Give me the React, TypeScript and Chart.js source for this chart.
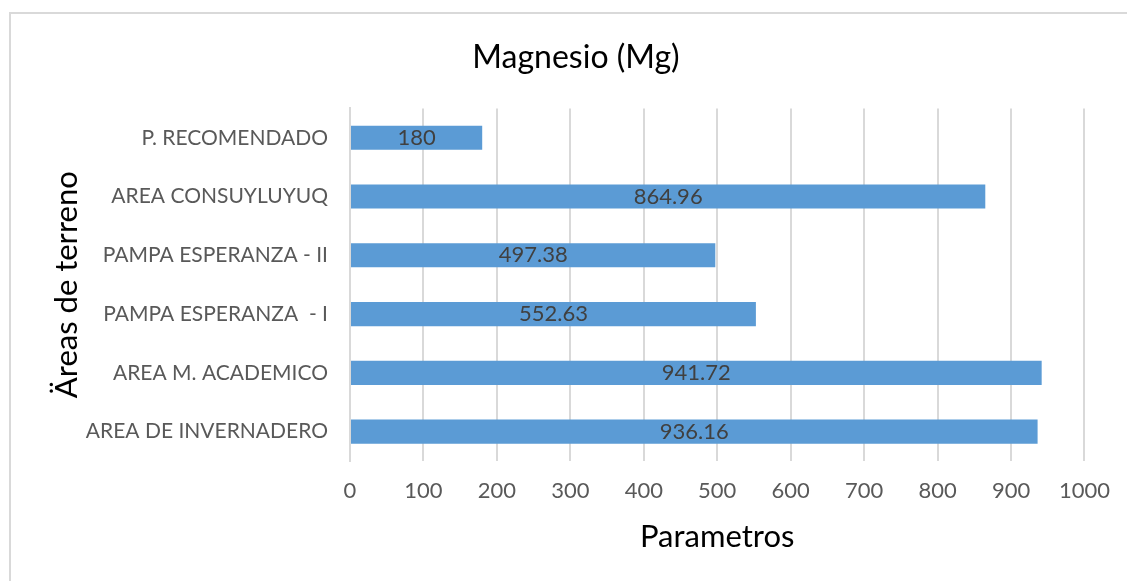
import React, { useEffect, useRef } from "react";
import { Chart, registerables } from "chart.js";

Chart.register(...registerables);

const categories = [
  "P. RECOMENDADO",
  "AREA CONSUYLUYUQ",
  "PAMPA ESPERANZA - II",
  "PAMPA ESPERANZA  - I",
  "AREA M. ACADEMICO",
  "AREA DE INVERNADERO",
];
const magnesio = [180, 864.96, 497.38, 552.63, 941.72, 936.16];
const xTicks = [0, 100, 200, 300, 400, 500, 600, 700, 800, 900, 1000];

const FONT = "Lato, 'Open Sans', sans-serif";

// Writes each bar's value in the middle of the bar
const barValueLabels = {
  id: "barValueLabels",
  afterDatasetsDraw(chart: any) {
    const { ctx } = chart;
    const meta = chart.getDatasetMeta(0);
    const values = chart.data.datasets[0].data as number[];
    ctx.save();
    ctx.font = `22px ${FONT}`;
    ctx.fillStyle = "#404040";
    ctx.textAlign = "center";
    ctx.textBaseline = "middle";
    meta.data.forEach((bar: any, i: number) => {
      const cx = (bar.x + bar.base) / 2;
      ctx.fillText(String(values[i]), cx, bar.y);
    });
    ctx.restore();
  },
};

// Left padding keeps the title centred where it sits in the chart frame;
// the y axis width is reduced by the same amount so the plot starts at x=350.
const PAD_LEFT = 61;
const PAD_RIGHT = 36;

export default function App() {
  const canvasRef = useRef<HTMLCanvasElement | null>(null);

  useEffect(() => {
    if (!canvasRef.current) return;
    const chart = new Chart(canvasRef.current, {
      type: "bar",
      data: {
        labels: categories,
        datasets: [
          {
            label: "Magnesio (Mg)",
            data: magnesio,
            backgroundColor: "#5B9BD5",
            borderWidth: 0,
            barPercentage: 0.41,
            categoryPercentage: 1,
          },
        ],
      },
      options: {
        indexAxis: "y",
        animation: false,
        responsive: false,
        maintainAspectRatio: false,
        layout: { padding: { left: PAD_LEFT, right: PAD_RIGHT, top: 0, bottom: 0 } },
        plugins: {
          legend: { display: false },
          tooltip: { enabled: false },
          title: {
            display: true,
            text: "Magnesio (Mg)",
            color: "#000000",
            font: { family: FONT, size: 32, weight: "normal" },
            padding: { top: 38, bottom: 32 },
          },
        },
        scales: {
          x: {
            min: 0,
            max: 1000,
            afterBuildTicks(scale: any) {
              scale.ticks = xTicks.map((v) => ({ value: v }));
            },
            afterFit(scale: any) {
              scale.height = 120;
            },
            grid: { color: "#d9d9d9", lineWidth: 2, drawTicks: false },
            border: { display: false },
            ticks: {
              color: "#595959",
              font: { family: FONT, size: 22 },
              padding: 17,
              maxRotation: 0,
              callback: (v: any) => String(v),
            },
            title: {
              display: true,
              text: "Parametros",
              color: "#000000",
              font: { family: FONT, size: 31, weight: "normal" },
              padding: { top: 0, bottom: 25 },
            },
          },
          y: {
            afterFit(scale: any) {
              scale.width = 350 - PAD_LEFT;
            },
            grid: { display: false, drawTicks: false },
            border: { display: true, color: "#d9d9d9", width: 2 },
            ticks: {
              color: "#595959",
              font: { family: FONT, size: 21 },
              padding: 22,
            },
            title: {
              display: true,
              text: "Äreas de terreno",
              color: "#000000",
              font: { family: FONT, size: 31, weight: "normal" },
              padding: { top: 48 - PAD_LEFT, bottom: 0 },
            },
          },
        },
      },
      plugins: [barValueLabels],
    });
    return () => chart.destroy();
  }, []);

  return (
    <div
      style={{
        position: "fixed",
        left: 0,
        top: 0,
        width: 1127,
        height: 581,
        background: "#ffffff",
        overflow: "hidden",
      }}
    >
      <div
        style={{
          position: "absolute",
          left: 9,
          top: 12,
          width: 1300,
          height: 800,
          borderTop: "2px solid #d9d9d9",
          borderLeft: "2px solid #d9d9d9",
        }}
      />
      <canvas
        ref={canvasRef}
        width={1127}
        height={581}
        style={{ position: "absolute", left: 0, top: 0, width: 1127, height: 581 }}
      />
    </div>
  );
}
